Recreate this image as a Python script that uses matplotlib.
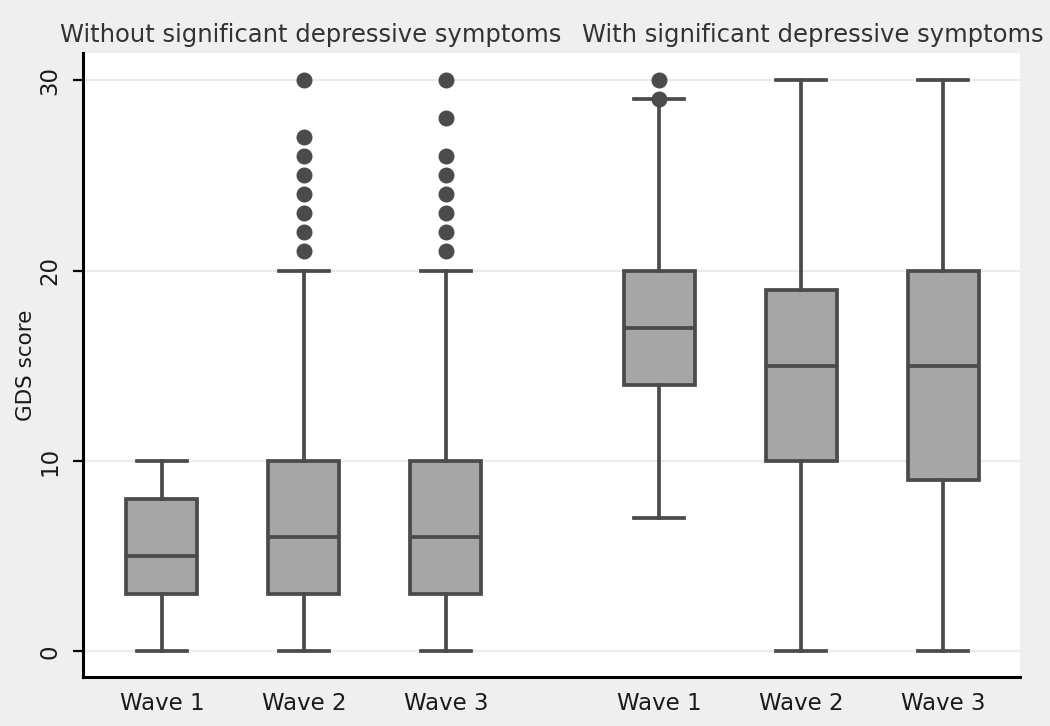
import matplotlib
matplotlib.use("Agg")
import matplotlib.pyplot as plt

# GDS score summaries
groups = ["Without significant depressive symptoms", "With significant depressive symptoms"]
waves = ["Wave 1", "Wave 2", "Wave 3"] * 2
positions = [1, 2, 3, 4.5, 5.5, 6.5]
whislo = [0, 0, 0, 7, 0, 0]
q1 = [3, 3, 3, 14, 10, 9]
med = [5, 6, 6, 17, 15, 15]
q3 = [8, 10, 10, 20, 19, 20]
whishi = [10, 20, 20, 29, 30, 30]
fliers = [
    [],
    [21, 22, 23, 24, 25, 26, 27, 30],
    [21, 22, 23, 24, 25, 26, 28, 30],
    [29, 30],
    [],
    [],
]

edge = "#4b4b4b"
fill = "#a6a6a6"

stats = []
for i in range(len(positions)):
    stats.append({"whislo": whislo[i], "q1": q1[i], "med": med[i],
                  "q3": q3[i], "whishi": whishi[i], "fliers": fliers[i]})

fig = plt.figure(figsize=(10.5, 7.26), dpi=100, facecolor="#efefef")
ax = fig.add_axes([83 / 1050, 1 - 677 / 726, (1020 - 83) / 1050, (677 - 53) / 726])
ax.set_facecolor("white")

lw = 2.7
ax.bxp(stats, positions=positions, widths=0.5, patch_artist=True,
       boxprops=dict(facecolor=fill, edgecolor=edge, linewidth=lw),
       medianprops=dict(color=edge, linewidth=lw),
       whiskerprops=dict(color=edge, linewidth=lw),
       capprops=dict(color=edge, linewidth=lw),
       capwidths=0.35,
       flierprops=dict(marker="o", markerfacecolor=edge, markeredgecolor=edge,
                       markersize=10.5),
       zorder=3)

ax.set_xlim(0.444, 7.042)
ax.set_ylim(-1.34, 31.42)
ax.set_yticks([0, 10, 20, 30])
ax.set_xticks(positions)
ax.set_xticklabels(waves)
ax.grid(axis="y", color="#ebebeb", linewidth=1.6, zorder=0)
ax.set_axisbelow(True)

for s in ["top", "right"]:
    ax.spines[s].set_visible(False)
for s in ["left", "bottom"]:
    ax.spines[s].set_linewidth(2.2)
    ax.spines[s].set_color("black")

ax.tick_params(axis="x", length=0, pad=11, labelsize=16.5, labelcolor="#1a1a1a")
ax.tick_params(axis="y", length=7.5, width=1.6, pad=8, labelsize=16.5,
               labelrotation=90, labelcolor="#1a1a1a")
for lab in ax.get_yticklabels():
    lab.set_va("center")

ax.set_ylabel("GDS score", fontsize=15.5, color="#1a1a1a", labelpad=2)

ax.text(2.05, 32.35, groups[0], ha="center", va="center", fontsize=17.5,
        color="#333333", clip_on=False)
ax.text(5.585, 32.35, groups[1], ha="center", va="center", fontsize=17.5,
        color="#333333", clip_on=False)

fig.savefig("out.png", dpi=100, facecolor=fig.get_facecolor())
